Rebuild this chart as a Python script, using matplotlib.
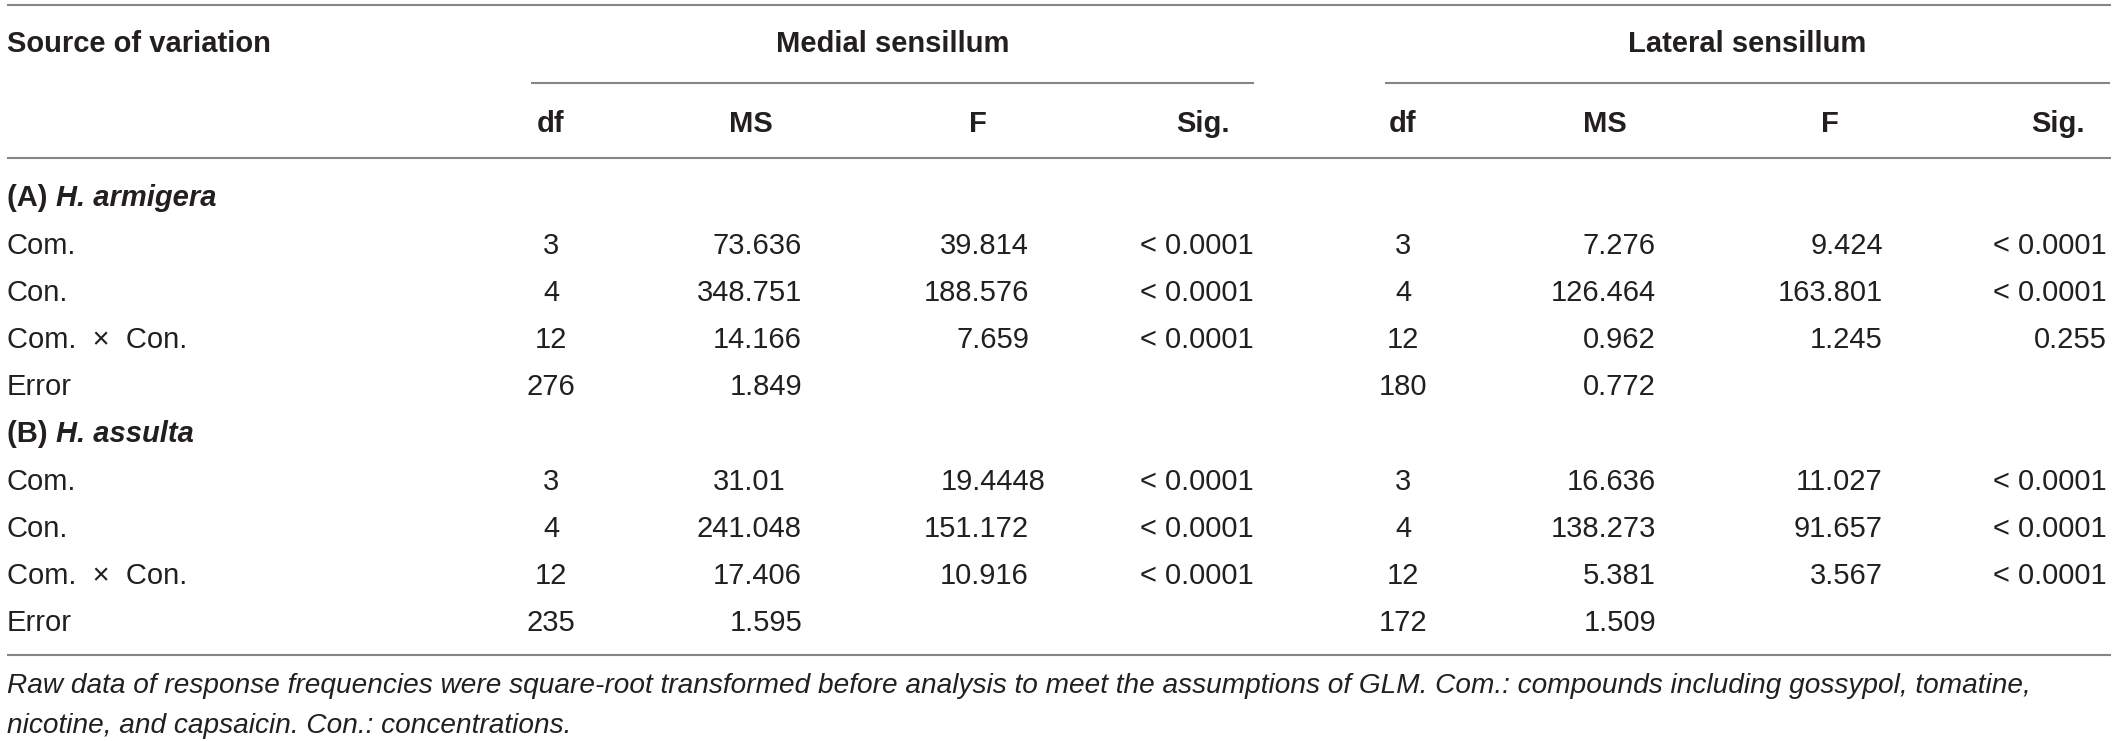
import matplotlib
matplotlib.use("Agg")
import matplotlib.pyplot as plt

# table content
groups = ["Medial sensillum", "Lateral sensillum"]
col_heads = ["df", "MS", "F", "Sig."]
sources = ["Com.", "Con.", "Com.  \u00d7  Con.", "Error"]
species_tag = ["(A)", "(B)"]
species = ["H. armigera", "H. assulta"]

# (A) H. armigera
med_df_a = ["3", "4", "12", "276"]
med_ms_a = ["73.636", "348.751", "14.166", "1.849"]
med_f_a = ["39.814", "188.576", "7.659", ""]
med_sig_a = ["< 0.0001", "< 0.0001", "< 0.0001", ""]
lat_df_a = ["3", "4", "12", "180"]
lat_ms_a = ["7.276", "126.464", "0.962", "0.772"]
lat_f_a = ["9.424", "163.801", "1.245", ""]
lat_sig_a = ["< 0.0001", "< 0.0001", "0.255", ""]

# (B) H. assulta
med_df_b = ["3", "4", "12", "235"]
med_ms_b = ["31.01", "241.048", "17.406", "1.595"]
med_f_b = ["19.4448", "151.172", "10.916", ""]
med_sig_b = ["< 0.0001", "< 0.0001", "< 0.0001", ""]
lat_df_b = ["3", "4", "12", "172"]
lat_ms_b = ["16.636", "138.273", "5.381", "1.509"]
lat_f_b = ["11.027", "91.657", "3.567", ""]
lat_sig_b = ["< 0.0001", "< 0.0001", "< 0.0001", ""]

footnote = ["Raw data of response frequencies were square-root transformed before analysis to meet the assumptions of GLM. Com.: compounds including gossypol, tomatine,",
            "nicotine, and capsaicin. Con.: concentrations."]

W, H = 2118, 741
FONT = "Liberation Sans"
FS = 21
TXT = "#231f20"
LINE = "#858585"
DIGIT = 0.556 * FS * 100 / 72  # width of one digit in px

fig = plt.figure(figsize=(W / 100, H / 100), dpi=100)
ax = fig.add_axes([0, 0, 1, 1])
ax.set_xlim(0, W)
ax.set_ylim(H, 0)
ax.axis("off")

def txt(x, y, s, ha="left", size=FS, **kw):
    # y is the visual middle of the row, put baseline a bit lower
    return ax.text(x, y + size / 2, s, ha=ha, va="baseline", fontsize=size,
                   family=FONT, color=TXT, **kw)

def hline(y, x0=7, x1=2111):
    ax.plot([x0, x1], [y, y], color=LINE, lw=1.5, solid_capstyle="butt")

# column layout: df center, MS right, F right, Sig right
med_cols = [551, 802, 1029, 1254]
lat_cols = [1403, 1656, 1883, 2107]
head_centers = [[551, 751, 978, 1203], [1403, 1605, 1830, 2058]]
spans = [(531, 1254), (1385, 2110)]

# rules
hline(5)
for x0, x1 in spans:
    hline(83, x0, x1)
hline(158)
hline(655)

# headers
txt(7, 42, "Source of variation", fontweight="bold")
for g, (x0, x1) in zip(groups, spans):
    txt((x0 + x1) / 2, 42, g, ha="center", fontweight="bold")
for centers in head_centers:
    for h, xc in zip(col_heads, centers):
        txt(xc, 122, h, ha="center", fontweight="bold")

def dec_x(right, s):
    # decimal alignment on three decimals
    nfrac = len(s.split(".")[1]) if "." in s else 3
    return right + (nfrac - 3) * DIGIT

fig.canvas.draw()
renderer = fig.canvas.get_renderer()

blocks = [
    (med_df_a, med_ms_a, med_f_a, med_sig_a, lat_df_a, lat_ms_a, lat_f_a, lat_sig_a),
    (med_df_b, med_ms_b, med_f_b, med_sig_b, lat_df_b, lat_ms_b, lat_f_b, lat_sig_b),
]
y0 = 196
step = 47.2
row = 0
for b, block in enumerate(blocks):
    y = y0 + row * step
    t = txt(7, y, species_tag[b] + " ", fontweight="bold")
    bb = t.get_window_extent(renderer)
    xe = ax.transData.inverted().transform((bb.x1, bb.y0))[0]
    txt(xe, y, species[b], fontweight="bold", fontstyle="italic")
    row += 1
    mdf, mms, mf, msig, ldf, lms, lf, lsig = block
    for i, src in enumerate(sources):
        y = y0 + row * step
        txt(7, y, src)
        for cols, (dfv, msv, fv, sgv) in [(med_cols, (mdf, mms, mf, msig)),
                                           (lat_cols, (ldf, lms, lf, lsig))]:
            txt(cols[0], y, dfv[i], ha="center")
            txt(dec_x(cols[1], msv[i]), y, msv[i], ha="right")
            if fv[i]:
                txt(dec_x(cols[2], fv[i]), y, fv[i], ha="right")
            if sgv[i]:
                txt(cols[3], y, sgv[i], ha="right")
        row += 1

for k, line in enumerate(footnote):
    txt(7, 683 + k * 40, line, size=20.2, fontstyle="italic")

fig.savefig("out.png", dpi=100, facecolor="white")
